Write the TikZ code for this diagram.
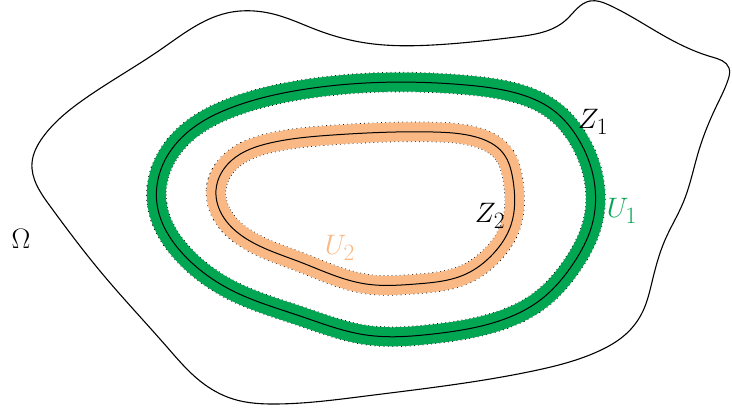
\documentclass[tikz,border=0pt]{standalone}
\usetikzlibrary{hobby}
\definecolor{bandgreen}{RGB}{0,166,81}
\definecolor{bandorange}{RGB}{250,185,132}
\begin{document}
\begin{tikzpicture}[x=1pt,y=-1pt,
  bandline/.style={
    preaction={draw,black,line width=20.4pt,dash pattern=on 0.8pt off 3.4pt},
    preaction={draw,#1,line width=19pt},
    draw=black,line width=1pt},
  lbl/.style={inner sep=0pt,font=\Huge,scale=1.13,transform shape}]
\useasboundingbox (0,0) rectangle (732,409);
% outer domain
\draw[line width=1.1pt] plot[closed hobby] coordinates {
 (32,163) (43,137) (83,100) (160,50) (227,13) (277,15) (317,30)
 (366,43) (433,45) (516,37) (566,20) (590,1) (609,5) (666,37)
 (712,57) (729,68) (728,80) (716,107) (699,150) (683,203) (665,240)
 (652,282) (643,311) (626,334)
 (599,351) (533,371) (366,396) (277,404) (233,399) (200,381) (167,347)
 (100,271) (50,206)};
% Z1 with band U1
\path[bandline=bandgreen] plot[closed hobby] coordinates {
 (157,204) (165,160) (197,125) (233,107) (300,90) (366,83) (466,85)
 (516,93) (553,110) (579,140) (594,180) (592,225) (573,264)
 (539,301) (499,321) (433,334) (366,335) (300,316) (233,291)
 (183,254)};
% Z2 with band U2
\path[bandline=bandorange] plot[closed hobby] coordinates {
 (216,190) (232,160) (270,143) (333,135) (433,132)
 (476,137) (503,153) (513,180) (511,225) (493,254) (466,274)
 (416,284) (366,284) (300,262) (250,241) (224,218)};
\node[lbl] (z1) at (593,122) {$Z_1$};
\node[lbl] (z2) at (490,216) {$Z_2$};
\node[lbl,text=bandgreen] (u1) at (622,211) {$U_1$};
\node[lbl,text=bandorange] (u2) at (340,248) {$U_2$};
\node[lbl] (om) at (21,239) {$\Omega$};
\end{tikzpicture}
\end{document}
